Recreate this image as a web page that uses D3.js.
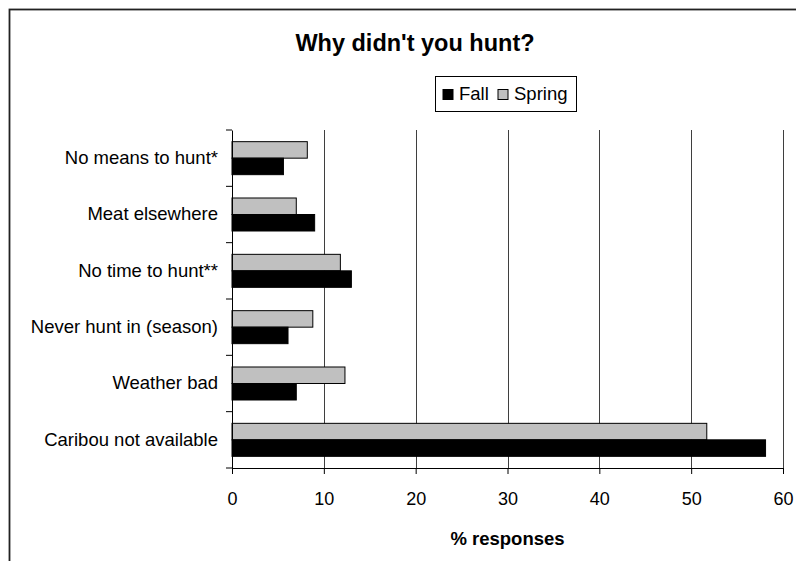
<!DOCTYPE html>
<html><head><meta charset="utf-8">
<script src="https://cdn.jsdelivr.net/npm/d3@7"></script>
<style>body{margin:0;background:#fff}svg{display:block}text{font-family:"Liberation Sans",Arial,sans-serif;fill:#000}</style>
</head><body><svg id="c" width="796" height="561"></svg>
<script>
const categories = ["No means to hunt*","Meat elsewhere","No time to hunt**","Never hunt in (season)","Weather bad","Caribou not available"];
const seriesNames = ["Spring","Fall"];
const springValues = [8.2, 7.0, 11.8, 8.8, 12.3, 51.7];
const fallValues = [5.6, 9.0, 13.0, 6.1, 7.0, 58.1];
const xTicks = [0,10,20,30,40,50,60];
const legendNames = ["Fall","Spring"];
const colors = {Fall:"#000000", Spring:"#c0c0c0"};

(function(){
const svg = d3.select("#c");
const pLeft = 232, pRight = 783, pTop = 130, pBottom = 468;
const x = d3.scaleLinear().domain([0,60]).range([pLeft,pRight]);
const y = d3.scaleBand().domain(categories).range([pTop,pBottom]);
const sub = d3.scaleBand().domain(seriesNames).range([0,y.bandwidth()]).paddingOuter(0.707);

// outer border
svg.append("rect").attr("x",9.5).attr("y",9.5).attr("width",820).attr("height",570)
  .attr("fill","none").attr("stroke","#222").attr("stroke-width",1.8);

// gridlines
svg.append("g").selectAll("line").data(xTicks.filter(d=>d>0)).join("line")
  .attr("x1",d=>Math.round(x(d))+0.5).attr("x2",d=>Math.round(x(d))+0.5)
  .attr("y1",pTop).attr("y2",pBottom).attr("stroke","#000").attr("stroke-width",1).attr("opacity",0.75);

// bars
const rows = categories.map((c,i)=>({cat:c, Spring:springValues[i], Fall:fallValues[i]}));
const g = svg.append("g");
rows.forEach(r=>{
  seriesNames.forEach(s=>{
    g.append("rect")
      .attr("x",x(0)).attr("y",y(r.cat)+sub(s))
      .attr("width",x(r[s])-x(0)).attr("height",sub.bandwidth())
      .attr("fill",colors[s]).attr("stroke","#000").attr("stroke-width",1);
  });
});

// x axis
const xAxis = svg.append("g").attr("transform",`translate(0,${pBottom})`)
  .call(d3.axisBottom(x).tickValues(xTicks).tickSize(6).tickPadding(18).tickSizeOuter(0));
xAxis.select(".domain").attr("stroke","#000");
xAxis.selectAll("text").attr("font-size","18px").attr("font-family","Liberation Sans, Arial, sans-serif").attr("fill","#000");

// y axis
const yAxis = svg.append("g").attr("transform",`translate(${pLeft},0)`)
  .call(d3.axisLeft(y).tickSize(0).tickPadding(14));
yAxis.select(".domain").attr("stroke","#000");
yAxis.selectAll("text").attr("font-size","18.5px").attr("font-family","Liberation Sans, Arial, sans-serif").attr("fill","#000");
// boundary ticks
const bounds = categories.map(c=>y(c)).concat([pBottom]);
svg.append("g").selectAll("line").data(bounds).join("line")
  .attr("x1",pLeft-6).attr("x2",pLeft).attr("y1",d=>d).attr("y2",d=>d).attr("stroke","#000");

// title
svg.append("text").attr("x",415).attr("y",51).attr("text-anchor","middle")
  .attr("font-size","23.5px").attr("font-weight","bold").text("Why didn't you hunt?");
// x title
svg.append("text").attr("x",(pLeft+pRight)/2).attr("y",545).attr("text-anchor","middle")
  .attr("font-size","18.5px").attr("font-weight","bold").text("% responses");

// legend
const lg = svg.append("g");
lg.append("rect").attr("x",435.5).attr("y",76.5).attr("width",141).attr("height",35)
  .attr("fill","#fff").attr("stroke","#000");
const lx = [443, 498];
legendNames.forEach((n,i)=>{
  lg.append("rect").attr("x",lx[i]).attr("y",89.5).attr("width",10).attr("height",10)
    .attr("fill",colors[n]).attr("stroke","#000");
  lg.append("text").attr("x",lx[i]+16).attr("y",100).attr("font-size","18.5px").text(n);
});
})();
</script></body></html>
